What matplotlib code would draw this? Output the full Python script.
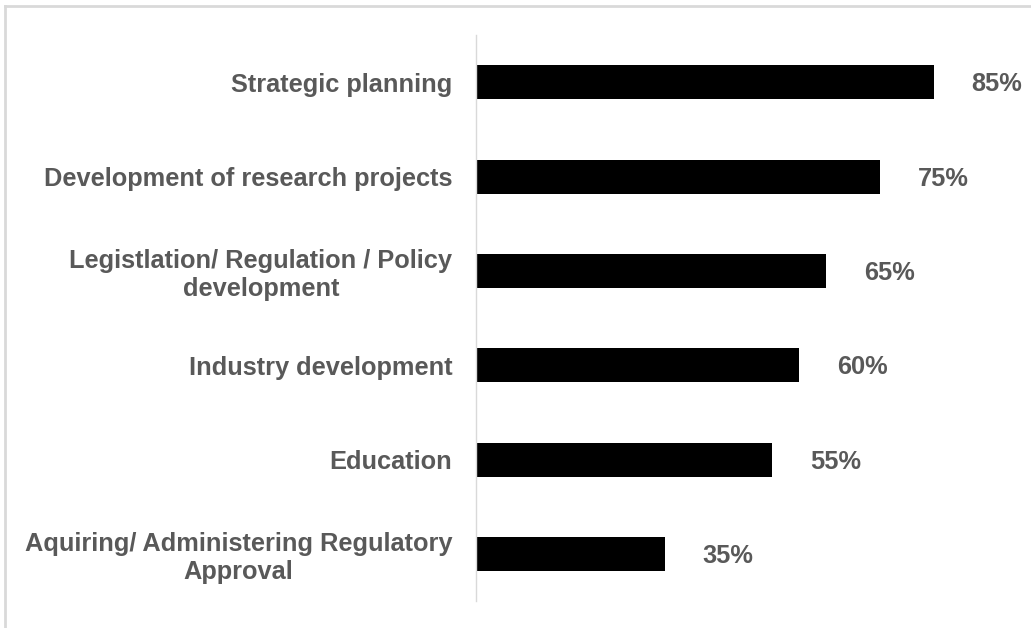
import matplotlib
matplotlib.use("Agg")
import matplotlib.pyplot as plt
from matplotlib.lines import Line2D

categories = [
    "Strategic planning",
    "Development of research projects",
    "Legistlation/ Regulation / Policy\ndevelopment",
    "Industry development",
    "Education",
    "Aquiring/ Administering Regulatory\nApproval",
]
values = [85, 75, 65, 60, 55, 35]

label_color = "#595959"
plt.rcParams["font.family"] = ["Liberation Sans", "DejaVu Sans"]

fig = plt.figure(figsize=(10.31, 6.28), dpi=100)
ax = fig.add_axes([0.4617, 0.043, 0.5228, 0.901])

y = list(range(len(categories)))
ax.barh(y, values, height=0.36, color="black")
ax.set_ylim(len(categories) - 0.5, -0.5)
ax.set_xlim(0, 100)

ax.set_yticks(y)
ax.set_yticklabels(categories, fontsize=18.3, fontweight="bold", color=label_color)
for lbl in ax.get_yticklabels():
    lbl.set_multialignment("center")
    lbl.set_linespacing(1.2)
ax.tick_params(axis="y", length=0, pad=17)
ax.set_xticks([])

for side in ("top", "right", "bottom"):
    ax.spines[side].set_visible(False)
ax.spines["left"].set_color("#d9d9d9")
ax.spines["left"].set_linewidth(1.0)

for yi, v in zip(y, values):
    ax.annotate(f"{v}%", xy=(v, yi), xytext=(27, -1.5), textcoords="offset points",
                ha="left", va="center", fontsize=18.3, fontweight="bold", color=label_color)

# outer frame on the top and left edges
fig.add_artist(Line2D([0.0045, 1], [0.9904, 0.9904], transform=fig.transFigure,
                      color="#d9d9d9", linewidth=2))
fig.add_artist(Line2D([0.0048, 0.0048], [0, 0.9904], transform=fig.transFigure,
                      color="#d9d9d9", linewidth=2))

fig.savefig("out.png", dpi=100)
